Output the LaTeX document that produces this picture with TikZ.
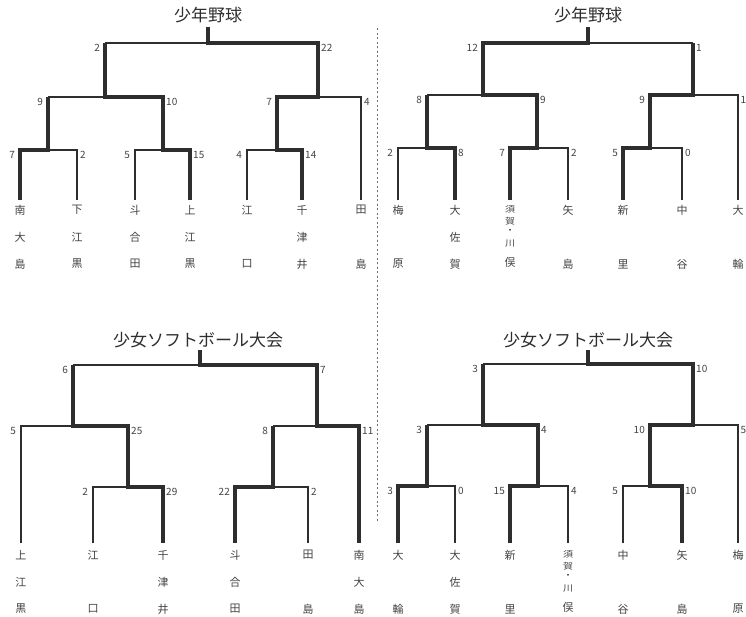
\documentclass[tikz,border=0pt]{standalone}
\usepackage{fontspec}
\setmainfont{Noto Sans CJK JP}
\definecolor{ink}{HTML}{2E2E2E}
\definecolor{numc}{HTML}{444444}
\definecolor{leafc}{HTML}{444444}
\tikzset{
  lose/.style={draw=ink, line width=1.1pt},
  win/.style={draw=ink, line width=3.6pt, line join=miter},
  num/.style={font=\fontsize{10}{10}\selectfont, text=numc, inner sep=0pt},
  leaf/.style={font=\fontsize{11}{11}\selectfont, text=leafc, inner sep=0pt},
  sleaf/.style={font=\fontsize{10}{10}\selectfont, text=leafc, inner sep=0pt, yscale=0.85},
  ttl/.style={font=\fontsize{17}{17}\selectfont, text=ink, inner sep=0pt},
  divider/.style={draw=ink!70, line width=0.9pt, dash pattern=on 2pt off 2.5pt}
}
\newcommand\lnum[4]{\node[num, anchor=east] (#1) at ({#2-5},{#3+5}) {#4};}
\newcommand\rnum[4]{\node[num, anchor=west] (#1) at ({#2+3},{#3+5}) {#4};}
\newcommand\leafcol[6]{%
  \node[leaf] (#1a) at (#2,#3) {#4};
  \node[leaf] (#1b) at (#2,{#3+27}) {#5};
  \node[leaf] (#1c) at (#2,{#3+54}) {#6};}
\newcommand\sukagawa[3]{%
  \node[sleaf] (#1a) at (#2,#3) {須};
  \node[sleaf] (#1b) at (#2,{#3+12}) {賀};
  \node[sleaf] (#1c) at (#2,{#3+22}) {・};
  \node[sleaf] (#1d) at (#2,{#3+35}) {川};
  \node[leaf] (#1e) at (#2,{#3+53}) {俣};}
\begin{document}
\begin{tikzpicture}[x=1pt,y=-1pt]
\useasboundingbox (0,0) rectangle (746,616);
\fill[white] (0,0) rectangle (746,616);

% divider
\draw[divider] (377,28) -- (377,522);

% ---------------- top left: 少年野球 ----------------
\node[ttl] (tlT) at (208,15) {少年野球};
\draw[lose] (105,43) -- (318,43);
\draw[lose] (48,97) -- (163,97);
\draw[lose] (277,97) -- (361,97) -- (361,200);
\draw[lose] (20,150) -- (77,150) -- (77,200);
\draw[lose] (135,200) -- (135,150) -- (190,150);
\draw[lose] (247,200) -- (247,150) -- (302,150);
\draw[win] (20,200) -- (20,150) -- (48,150) -- (48,97);
\draw[win] (190,200) -- (190,150) -- (163,150) -- (163,97) -- (105,97) -- (105,43);
\draw[win] (302,200) -- (302,150) -- (277,150) -- (277,97) -- (318,97) -- (318,43) -- (208,43) -- (208,27);
\lnum{tl1a}{105}{43}{2} \rnum{tl1b}{318}{43}{22}
\lnum{tl2a}{48}{97}{9} \rnum{tl2b}{163}{97}{10}
\lnum{tl2c}{277}{97}{7} \rnum{tl2d}{361}{97}{4}
\lnum{tl3a}{20}{150}{7} \rnum{tl3b}{77}{150}{2}
\lnum{tl3c}{135}{150}{5} \rnum{tl3d}{190}{150}{15}
\lnum{tl3e}{247}{150}{4} \rnum{tl3f}{302}{150}{14}
\leafcol{tlA}{20}{210}{南}{大}{島}
\leafcol{tlB}{77}{210}{下}{江}{黒}
\leafcol{tlC}{135}{210}{斗}{合}{田}
\leafcol{tlD}{190}{210}{上}{江}{黒}
\leafcol{tlE}{247}{210}{江}{}{口}
\leafcol{tlF}{302}{210}{千}{津}{井}
\leafcol{tlG}{361}{210}{田}{}{島}

% ---------------- top right: 少年野球 ----------------
\node[ttl] (trT) at (588,15) {少年野球};
\draw[lose] (483,43) -- (693,43);
\draw[lose] (427,95) -- (537,95);
\draw[lose] (650,95) -- (738,95) -- (738,200);
\draw[lose] (398,200) -- (398,148) -- (455,148);
\draw[lose] (510,148) -- (568,148) -- (568,200);
\draw[lose] (623,148) -- (682,148) -- (682,200);
\draw[win] (455,200) -- (455,148) -- (427,148) -- (427,95);
\draw[win] (510,200) -- (510,148) -- (537,148) -- (537,95) -- (483,95) -- (483,43) -- (588,43) -- (588,27);
\draw[win] (623,200) -- (623,148) -- (650,148) -- (650,95) -- (693,95) -- (693,43);
\lnum{tr1a}{483}{43}{12} \rnum{tr1b}{693}{43}{1}
\lnum{tr2a}{427}{95}{8} \rnum{tr2b}{537}{95}{9}
\lnum{tr2c}{650}{95}{9} \rnum{tr2d}{737.5}{95}{1}
\lnum{tr3a}{398}{148}{2} \rnum{tr3b}{455}{148}{8}
\lnum{tr3c}{510}{148}{7} \rnum{tr3d}{568}{148}{2}
\lnum{tr3e}{623}{148}{5} \rnum{tr3f}{682}{148}{0}
\leafcol{trA}{398}{210}{梅}{}{原}
\leafcol{trB}{455}{210}{大}{佐}{賀}
\sukagawa{trC}{510}{209}
\leafcol{trD}{568}{210}{矢}{}{島}
\leafcol{trE}{623}{210}{新}{}{里}
\leafcol{trF}{682}{210}{中}{}{谷}
\leafcol{trG}{738}{210}{大}{}{輪}

% ---------------- bottom left: 少女ソフトボール大会 ----------------
\node[ttl] (blT) at (198,340) {少女ソフトボール大会};
\draw[lose] (73,365) -- (317,365);
\draw[lose] (21,543) -- (21,426) -- (128,426);
\draw[lose] (273,426) -- (359,426);
\draw[lose] (93,543) -- (93,487) -- (163,487);
\draw[lose] (235,487) -- (308,487) -- (308,543);
\draw[win] (163,543) -- (163,487) -- (128,487) -- (128,426) -- (73,426) -- (73,365);
\draw[win] (235,543) -- (235,487) -- (273,487) -- (273,426);
\draw[win] (359,543) -- (359,426) -- (317,426) -- (317,365) -- (200,365) -- (200,350);
\lnum{bl1a}{73}{365}{6} \rnum{bl1b}{317}{365}{7}
\lnum{bl2a}{21}{426}{5} \rnum{bl2b}{128}{426}{25}
\lnum{bl2c}{273}{426}{8} \rnum{bl2d}{359}{426}{11}
\lnum{bl3a}{93}{487}{2} \rnum{bl3b}{163}{487}{29}
\lnum{bl3c}{235}{487}{22} \rnum{bl3d}{308}{487}{2}
\leafcol{blA}{21}{555}{上}{江}{黒}
\leafcol{blB}{93}{555}{江}{}{口}
\leafcol{blC}{163}{555}{千}{津}{井}
\leafcol{blD}{235}{555}{斗}{合}{田}
\leafcol{blE}{308}{555}{田}{}{島}
\leafcol{blF}{359}{555}{南}{大}{島}

% ---------------- bottom right: 少女ソフトボール大会 ----------------
\node[ttl] (brT) at (588,340) {少女ソフトボール大会};
\draw[lose] (483,364) -- (693,364);
\draw[lose] (427,425) -- (538,425);
\draw[lose] (650,425) -- (738,425) -- (738,543);
\draw[lose] (398,486) -- (455,486) -- (455,543);
\draw[lose] (510,486) -- (568,486) -- (568,543);
\draw[lose] (623,543) -- (623,486) -- (682,486);
\draw[win] (398,543) -- (398,486) -- (427,486) -- (427,425);
\draw[win] (510,543) -- (510,486) -- (538,486) -- (538,425) -- (483,425) -- (483,364);
\draw[win] (682,543) -- (682,486) -- (650,486) -- (650,425) -- (693,425) -- (693,364) -- (588,364) -- (588,350);
\lnum{br1a}{483}{364}{3} \rnum{br1b}{693}{364}{10}
\lnum{br2a}{427}{425}{3} \rnum{br2b}{538}{425}{4}
\lnum{br2c}{650}{425}{10} \rnum{br2d}{737.5}{425}{5}
\lnum{br3a}{398}{486}{3} \rnum{br3b}{455}{486}{0}
\lnum{br3c}{510}{486}{15} \rnum{br3d}{568}{486}{4}
\lnum{br3e}{623}{486}{5} \rnum{br3f}{682}{486}{10}
\leafcol{brA}{398}{555}{大}{}{輪}
\leafcol{brB}{455}{555}{大}{佐}{賀}
\leafcol{brC}{510}{555}{新}{}{里}
\sukagawa{brD}{568}{554}
\leafcol{brE}{623}{555}{中}{}{谷}
\leafcol{brF}{682}{555}{矢}{}{島}
\leafcol{brG}{738}{555}{梅}{}{原}
\end{tikzpicture}
\end{document}
